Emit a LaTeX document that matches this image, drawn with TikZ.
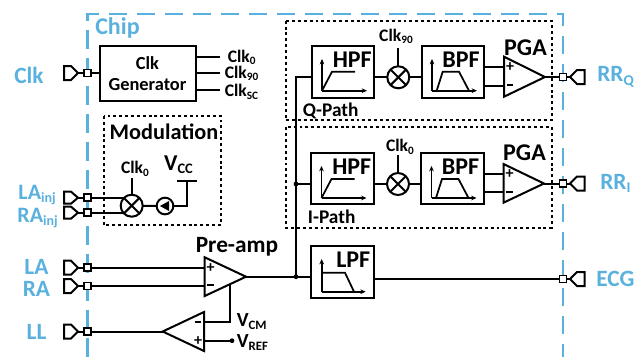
\documentclass[tikz,border=0pt]{standalone}
\usepackage{fontspec}
\usepackage{graphicx}
\setmainfont{Carlito}
\usetikzlibrary{arrows.meta}
\definecolor{chipblue}{HTML}{5BB1DE}
\newcommand\sz[1]{\fontsize{#1}{#1}\selectfont\bfseries}
\newcommand\subt[1]{\raisebox{-0.3ex}{\scalebox{0.64}{#1}}}
\tikzset{
  x=0.75pt,y=-0.75pt,
  wire/.style={line width=1.5pt,black,line join=miter},
  blockbox/.style={draw,line width=1.5pt,inner sep=0pt,outer sep=0pt},
  dotbox/.style={draw,line width=1.3pt,dash pattern=on 2.2pt off 2.2pt},
  chipline/.style={draw=chipblue,line width=1.7pt,dash pattern=on 14pt off 7pt},
  padbox/.style={draw,fill=white,line width=1.3pt,inner sep=0pt,outer sep=0pt,minimum size=5.2pt},
  portshape/.style={draw,line width=1.5pt,line join=miter},
  mixer/.style={draw,circle,line width=1.5pt,inner sep=0pt,outer sep=0pt,minimum size=16.5pt,fill=white},
  csource/.style={draw,circle,line width=1.5pt,inner sep=0pt,outer sep=0pt,minimum size=12.5pt},
  amp/.style={draw,line width=1.5pt,line join=miter,fill=white},
  axisarrow/.style={line width=1.2pt,-{Stealth[length=4pt,width=3.5pt]}},
  resp/.style={line width=1.3pt},
  bluelab/.style={text=chipblue,inner sep=0pt,font=\sz{17.5}},
  blacklab/.style={inner sep=0pt,font=\sz{13.2}},
  biglab/.style={inner sep=0pt,font=\sz{18}},
  filterlab/.style={inner sep=0pt,font=\sz{18},anchor=east},
  pathlab/.style={inner sep=0pt,font=\sz{14.5},anchor=west},
  sign/.style={inner sep=0pt,font=\sz{12}},
  dotjoin/.style={circle,fill=black,inner sep=0pt,minimum size=3.6pt},
}
% name x1 y1 x2 y2
\newcommand\blk[5]{\node[blockbox,minimum width={(#4-#2)*0.75pt},minimum height={(#5-#3)*0.75pt}] (#1) at ({(#2+#4)/2},{(#3+#5)/2}) {};}
% left port: name y half-height
\newcommand\portL[3]{\node[padbox] (#1) at (87.5,#2) {};
  \draw[portshape] (64,#2-#3) -- (71,#2-#3) -- (78,#2) -- (71,#2+#3) -- (64,#2+#3) -- cycle;
  \coordinate (#1tip) at (78,#2);
  \draw[wire] (#1tip) -- (#1);}
% right port: name y
\newcommand\portR[2]{\node[padbox] (#1) at (563,#2) {};
  \draw[portshape] (584.5,#2-7) -- (577,#2-7) -- (570,#2) -- (577,#2+7) -- (584.5,#2+7) -- cycle;
  \coordinate (#1tip) at (570,#2);
  \draw[wire] (#1) -- (#1tip);}
\begin{document}
\begin{tikzpicture}
\useasboundingbox (0,0) rectangle (644,361);
% chip boundary
\draw[chipline] (87.5,357) -- (87.5,14) -- (563,14) -- (563,357);
\node[bluelab,font=\sz{18},anchor=west] (chip) at (95,28) {Chip};
% dashed groups
\draw[dotbox] (103.7,116) rectangle (221.3,224.7);
\draw[dotbox] (286,20.7) rectangle (551.7,120.3);
\draw[dotbox] (286,127.3) rectangle (551.7,227.7);
% clock generator
\blk{clkgen}{99.5}{45.5}{195.5}{100.5}
\node[inner sep=0pt,align=center,font=\sz{13.8}] (clkgentxt) at (147.5,73.5) {Clk\\[2pt]Generator};
\foreach \n/\y in {a/57,b/73,c/90}{\coordinate (clkout\n) at (220,\y); \draw[wire] (195.5,\y) -- (clkout\n);}
\node[blacklab,anchor=west] (clk0top) at (227.5,57.5) {Clk\subt{0}};
\node[blacklab,anchor=west] (clk90top) at (224.5,73.5) {Clk\subt{90}};
\node[blacklab,anchor=west] (clkSC) at (224.5,92) {Clk\subt{SC}};
% left ports
\portL{pclk}{73}{7}
\portL{pla}{197.7}{6}
\portL{pra}{212.7}{6}
\portL{plain}{267.7}{7}
\portL{prain}{286}{7}
\portL{pll}{331.5}{7}
\draw[wire] (pclk) -- (99.5,73);
\node[bluelab] (lclk) at (29,75.5) {Clk};
\node[bluelab,font=\sz{16.5},anchor=base east] (llainj) at (56,199) {LA\subt{inj}};
\node[bluelab,font=\sz{16.5},anchor=base east] (lrainj) at (58,222) {RA\subt{inj}};
\node[bluelab] (lla) at (36.5,267) {LA};
\node[bluelab] (lra) at (36.5,288.5) {RA};
\node[bluelab] (lll) at (36.5,331.5) {LL};
% modulation
\node[biglab,font=\sz{16.7}] (modt) at (164,132) {Modulation};
\node[mixer] (mixm) at (131.7,205.7) {};
\draw[line width=1.5pt] (mixm.45) -- (mixm.225) (mixm.135) -- (mixm.315);
\node[csource] (cs) at (165,206) {};
\fill (160,206) -- (169,201) -- (169,211) -- cycle;
\coordinate (vccb) at (187,181);
\draw[wire] (cs) -- (187,206) -- (vccb);
\draw[wire] (177,181) -- (197,181);
\draw[wire] (mixm) -- (cs);
\draw[wire] (pla) -- (124,197.7);
\draw[wire] (pra) -- (124,212.7);
\coordinate (mixmtop) at (131.7,178);
\draw[wire] (mixmtop) -- (mixm);
\node[blacklab] (clk0m) at (135,169) {Clk\subt{0}};
\node[biglab,font=\sz{17}] (vcc) at (178.5,165) {V\subt{CC}};
% Q path
\blk{hpfq}{311.7}{46}{374.3}{97.7}
\blk{bpfq}{421.7}{46}{484}{97.7}
\node[mixer] (mixq) at (398.3,77.3) {};
\draw[line width=1.5pt] (mixq.45) -- (mixq.225) (mixq.135) -- (mixq.315);
\coordinate (mixqtop) at (398.3,48);
\draw[wire] (mixqtop) -- (mixq);
\draw[wire] (hpfq.east |- mixq) -- (mixq);
\draw[wire] (mixq) -- (bpfq.west |- mixq);
\node[blacklab] (clk90q) at (396,36.5) {Clk\subt{90}};
\node[filterlab] (hpfqt) at (372,60) {HPF};
\node[filterlab] (bpfqt) at (480,60) {BPF};
\draw[axisarrow] (322,90.7) -- (322,59);
\draw[axisarrow] (322,90.7) -- (367,90.7);
\draw[resp] (322,90.7) -- (332,71.7) -- (355,71.7);
\draw[axisarrow] (432,90.7) -- (432,59);
\draw[axisarrow] (432,90.7) -- (477,90.7);
\draw[resp] (436.7,90.7) -- (442.7,71.7) -- (459,71.7) -- (469,90.7);
\coordinate (qp) at (504,67.3); \coordinate (qm) at (504,85.7); \coordinate (qo) at (545,77);
\draw[wire] (bpfq.east |- qp) -- (qp);
\draw[wire] (bpfq.east |- qm) -- (qm);
\draw[amp] (504,56.7) -- (qo) -- (504,96.7) -- cycle;
\node[sign] (qps) at (510,67.5) {+};
\node[sign] (qms) at (510,85.5) {\rule[0.2ex]{5pt}{1.3pt}};
\node[biglab] (pgaq) at (525.5,48) {PGA};
\portR{prq}{77}
\draw[wire] (qo) -- (prq);
\node[bluelab,anchor=west] (lrrq) at (597,77) {RR\subt{Q}};
\node[pathlab] (qpath) at (302.7,111) {Q-Path};
% I path
\blk{hpfi}{311}{152.7}{373.7}{204}
\blk{bpfi}{420.7}{152.7}{484}{204}
\node[mixer] (mixi) at (398,184) {};
\draw[line width=1.5pt] (mixi.45) -- (mixi.225) (mixi.135) -- (mixi.315);
\coordinate (mixitop) at (398,155);
\draw[wire] (mixitop) -- (mixi);
\draw[wire] (hpfi.east |- mixi) -- (mixi);
\draw[wire] (mixi) -- (bpfi.west |- mixi);
\node[blacklab] (clk0i) at (400,147) {Clk\subt{0}};
\node[filterlab] (hpfit) at (371.5,167) {HPF};
\node[filterlab] (bpfit) at (479.5,167) {BPF};
\draw[axisarrow] (321.5,198) -- (321.5,166);
\draw[axisarrow] (321.5,198) -- (366.5,198);
\draw[resp] (321.5,198) -- (331.5,179) -- (354.5,179);
\draw[axisarrow] (431.5,198) -- (431.5,166);
\draw[axisarrow] (431.5,198) -- (476.5,198);
\draw[resp] (436,198) -- (442,179) -- (458.5,179) -- (468.5,198);
\coordinate (ip) at (503.5,174); \coordinate (im) at (503.5,192.3); \coordinate (io) at (544,183.5);
\draw[wire] (bpfi.east |- ip) -- (ip);
\draw[wire] (bpfi.east |- im) -- (im);
\draw[amp] (503.5,164) -- (io) -- (503.5,202.7) -- cycle;
\node[sign] (ips) at (509.5,174.5) {+};
\node[sign] (ims) at (509.5,192.5) {\rule[0.2ex]{5pt}{1.3pt}};
\node[biglab] (pgai) at (524.5,153) {PGA};
\portR{pri}{183.5}
\draw[wire] (io) -- (pri);
\node[bluelab,anchor=west] (lrri) at (600,183.5) {RR\subt{I}};
\node[pathlab] (ipath) at (307.7,216.5) {I-Path};
% LPF
\blk{lpf}{310.7}{245.7}{374}{297.7}
\node[filterlab] (lpft) at (370.5,260) {LPF};
\draw[axisarrow] (321.7,291.7) -- (321.7,259);
\draw[axisarrow] (321.7,291.7) -- (365.7,291.7);
\draw[resp] (321.7,272.7) -- (345,272.7) -- (354,291.7);
\portR{pecg}{279}
\draw[wire] (lpf.east |- pecg) -- (pecg);
\node[bluelab,anchor=west] (lecg) at (596,279) {ECG};
% pre-amp
\coordinate (pap) at (204.7,267.7); \coordinate (pam) at (204.7,286); \coordinate (pao) at (246,276.7);
\draw[wire] (plain) -- (pap);
\draw[wire] (prain) -- (pam);
\coordinate (fbup) at (230,285);
\coordinate (fbm) at (204,322.3);
\draw[wire] (fbup) -- (230,322.3) -- (fbm);
\draw[amp] (204.7,257.3) -- (pao) -- (204.7,296) -- cycle;
\node[sign] (pps) at (210.5,268) {+};
\node[sign] (pms) at (210.5,286) {\rule[0.2ex]{5pt}{1.3pt}};
\node[biglab,font=\sz{17.5}] (pret) at (237,247) {Pre-amp};
% bus
\coordinate (busb) at (296,276.7);
\coordinate (bust) at (296,77);
\draw[wire] (pao) -- (lpf.west |- pao);
\draw[wire] (busb) -- (bust) -- (hpfq.west |- bust);
\draw[wire] (296,184) -- (hpfi.west |- 0,184);
\node[dotjoin] (j1) at (296,184) {};
\node[dotjoin] (j2) at (busb) {};
% common-mode amp
\coordinate (cmo) at (162.7,331.5); \coordinate (cmp) at (204,340.7);
\coordinate (vrefdot) at (232,340.7);
\draw[wire] (pll) -- (cmo);
\draw[wire] (cmp) -- (vrefdot);
\node[dotjoin] (j3) at (vrefdot) {};
\draw[amp] (204,312) -- (cmo) -- (204,351) -- cycle;
\node[sign] (cms) at (198,322.5) {\rule[0.2ex]{5pt}{1.3pt}};
\node[sign] (cps) at (198,341) {+};
\node[blacklab,font=\sz{15},anchor=west] (vcm) at (236.5,321.5) {V\subt{CM}};
\node[blacklab,font=\sz{15},anchor=west] (vref) at (236.5,342.5) {V\subt{REF}};
\end{tikzpicture}
\end{document}
